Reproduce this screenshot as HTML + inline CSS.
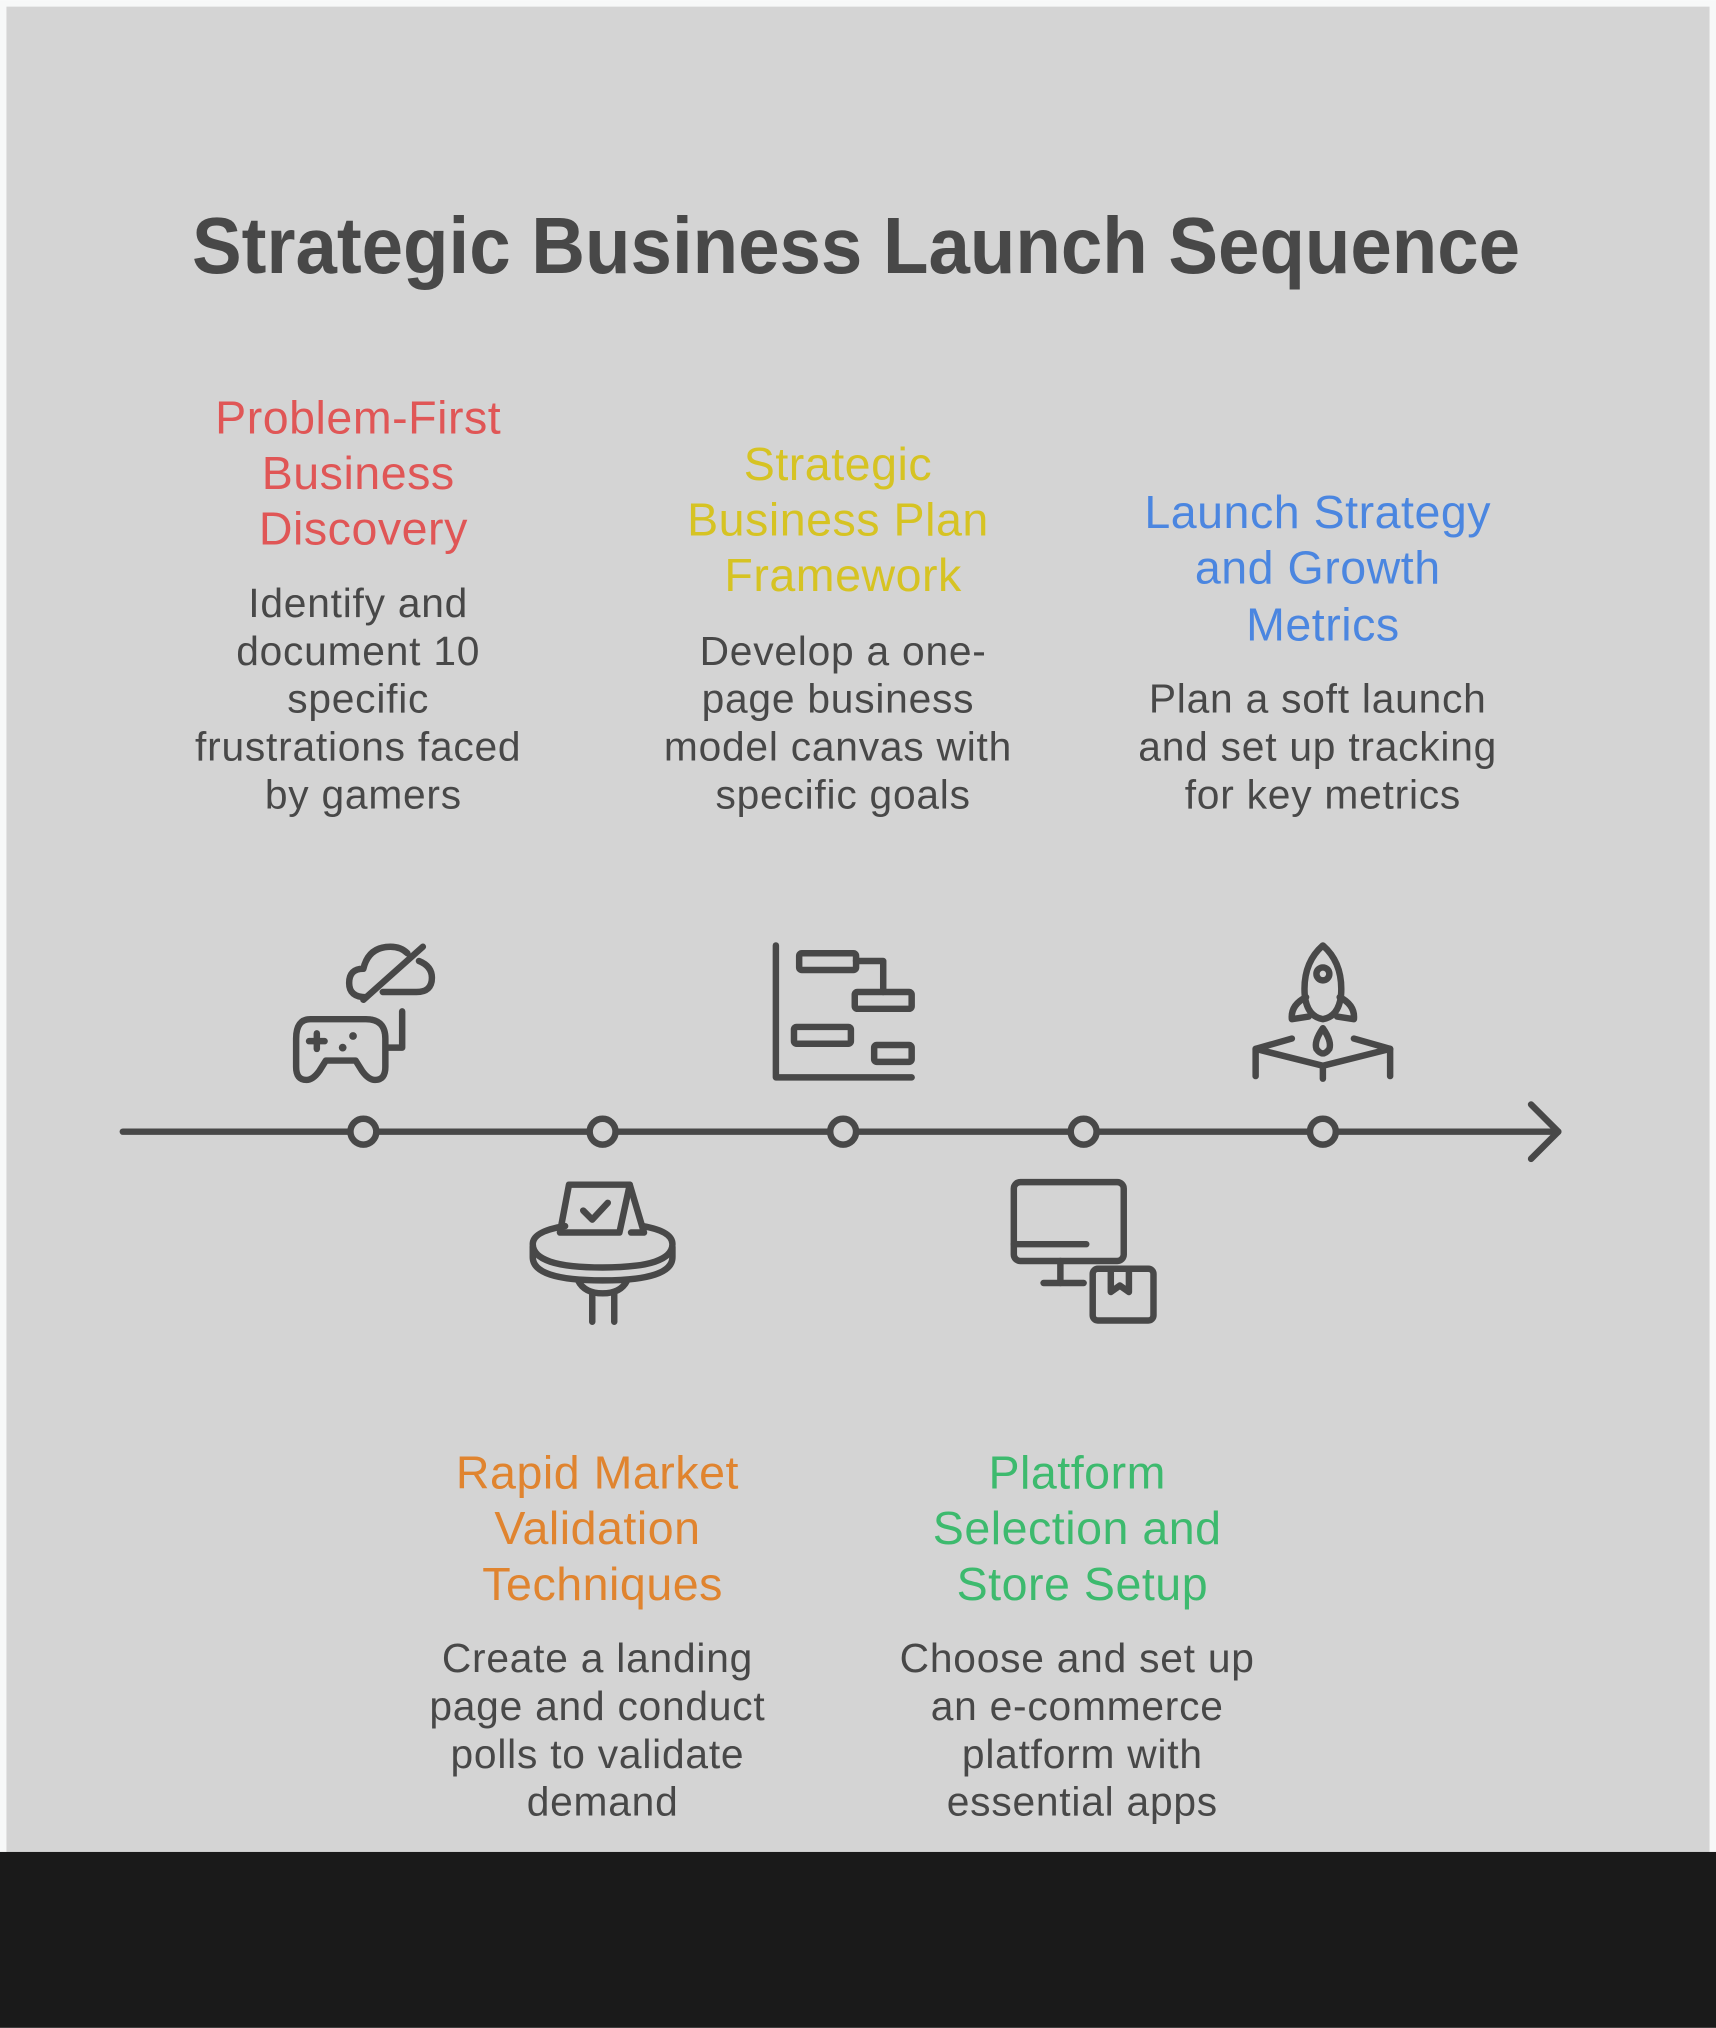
<!DOCTYPE html>
<html><head><meta charset="utf-8"><style>
html,body{margin:0;padding:0;background:#fff;}
svg{display:block;}
</style></head><body>
<svg width="1716" height="2028" viewBox="0 0 1327 1568" xmlns="http://www.w3.org/2000/svg">
<rect x="0" y="0" width="1327" height="1568" fill="#f7f8f8"/>
<rect x="5" y="5" width="1317" height="1428" fill="#d4d4d4"/>
<rect x="0" y="1432" width="1327" height="136" fill="#1a1a1a"/>
<g font-family="Liberation Sans, Arial, sans-serif" text-anchor="middle">
<text x="662" y="211" font-size="62" font-weight="bold" fill="#484848" textLength="1027" lengthAdjust="spacingAndGlyphs">Strategic Business Launch Sequence</text>
<g font-size="36" fill="#e05656" letter-spacing="0.4">
<text x="277" y="335">Problem-First</text><text x="277" y="378">Business</text><text x="281" y="421">Discovery</text></g>
<g font-size="31.5" fill="#484848" letter-spacing="0.6">
<text x="277" y="477">Identify and</text><text x="277" y="514">document 10</text><text x="277" y="551">specific</text><text x="277" y="588">frustrations faced</text><text x="281" y="625">by gamers</text></g>
<g font-size="36" fill="#d6c323" letter-spacing="0.4">
<text x="648" y="371">Strategic</text><text x="648" y="414">Business Plan</text><text x="652" y="457">Framework</text></g>
<g font-size="31.5" fill="#484848" letter-spacing="0.6">
<text x="652" y="514">Develop a one-</text><text x="648" y="551">page business</text><text x="648" y="588">model canvas with</text><text x="652" y="625">specific goals</text></g>
<g font-size="36" fill="#4b86e0" letter-spacing="0.4">
<text x="1019" y="408">Launch Strategy</text><text x="1019" y="451">and Growth</text><text x="1023" y="495">Metrics</text></g>
<g font-size="31.5" fill="#484848" letter-spacing="0.6">
<text x="1019" y="551">Plan a soft launch</text><text x="1019" y="588">and set up tracking</text><text x="1023" y="625">for key metrics</text></g>
<g font-size="36" fill="#e0842f" letter-spacing="0.4">
<text x="462" y="1151">Rapid Market</text><text x="462" y="1194">Validation</text><text x="466" y="1237">Techniques</text></g>
<g font-size="31.5" fill="#484848" letter-spacing="0.6">
<text x="462" y="1293">Create a landing</text><text x="462" y="1330">page and conduct</text><text x="462" y="1367">polls to validate</text><text x="466" y="1404">demand</text></g>
<g font-size="36" fill="#3dba6e" letter-spacing="0.4">
<text x="833" y="1151">Platform</text><text x="833" y="1194">Selection and</text><text x="837" y="1237">Store Setup</text></g>
<g font-size="31.5" fill="#484848" letter-spacing="0.6">
<text x="833" y="1293">Choose and set up</text><text x="833" y="1330">an e-commerce</text><text x="837" y="1367">platform with</text><text x="837" y="1404">essential apps</text></g>
</g>
<g stroke="#484848" stroke-width="5" fill="none" stroke-linecap="round" stroke-linejoin="round">
<line x1="95" y1="875" x2="1205" y2="875"/>
<polyline points="1184,854 1205,875 1184,896"/>
<g fill="#d4d4d4">
<circle cx="281" cy="875" r="10"/><circle cx="466" cy="875" r="10"/><circle cx="652" cy="875" r="10"/><circle cx="838" cy="875" r="10"/><circle cx="1023" cy="875" r="10"/></g>
<path d="M240,788 H283 Q298,788 298,803 V825 Q298,835 290,835 Q285,835 280,828 L275,820 H252 L247,828 Q242,835 237,835 Q229,835 229,825 V803 Q229,788 240,788 Z"/>
<line x1="239" y1="805" x2="251" y2="805"/><line x1="245" y1="799" x2="245" y2="811"/>
<polyline points="300,810 311,810 311,782"/>
<path d="M283,771 Q270,771 270,760 Q270,749 281,749 Q285,732 302,732 Q310,732 315,737"/>
<path d="M324,743 Q334,747 334,756 Q334,767 322,767 H296"/>
<line x1="281" y1="773" x2="327" y2="732"/>
<polyline points="600,731 600,833 705,833"/>
<rect x="618" y="737" width="44" height="13" rx="2"/>
<rect x="661" y="767" width="44" height="13" rx="2"/>
<rect x="614" y="794" width="44" height="13" rx="2"/>
<rect x="676" y="808" width="29" height="13" rx="2"/>
<polyline points="662,743 683,743 683,767"/>
<path d="M1023,731 Q1007,745 1009,770 Q1011,786 1023,788 Q1035,786 1037,770 Q1039,745 1023,731 Z"/>
<circle cx="1023" cy="753" r="5"/>
<path d="M1010,771 Q998,777 999,788 L1012,786"/>
<path d="M1036,771 Q1048,777 1047,788 L1034,786"/>
<path d="M1023,795 Q1016,805 1018,811 Q1023,818 1028,811 Q1030,805 1023,795 Z"/>
<polyline points="999,803 971,811 1023,824 1075,811 1047,803"/>
<line x1="971" y1="811" x2="971" y2="832"/><line x1="1075" y1="811" x2="1075" y2="832"/><line x1="1023" y1="824" x2="1023" y2="834"/>
<path d="M437,948 Q412,952 412,962 Q412,980 466,980 Q520,980 520,962 Q520,952 497,948"/>
<path d="M412,964 V972 Q412,990 466,990 Q520,990 520,972 V964"/>
<path d="M447,990 Q452,1000 466,1000 Q480,1000 485,990"/>
<line x1="458" y1="1000" x2="458" y2="1022"/><line x1="475" y1="1000" x2="475" y2="1022"/>
<polygon points="440,916 487,916 479,953 433,953"/>
<path d="M487,916 L498,953 H488"/>
<polyline points="451,936 458,943 470,930"/>
<rect x="784" y="914" width="85" height="61" rx="5"/>
<line x1="784" y1="962" x2="840" y2="962"/>
<line x1="820" y1="975" x2="820" y2="992"/><line x1="807" y1="992" x2="838" y2="992"/>
<rect x="845" y="981" width="47" height="40" rx="4"/>
<polyline points="859,982 859,999 866,994 873,999 873,982"/>
</g>
<g fill="#484848"><circle cx="273" cy="801" r="3"/><circle cx="265" cy="810" r="3"/></g>
</svg>
</body></html>
